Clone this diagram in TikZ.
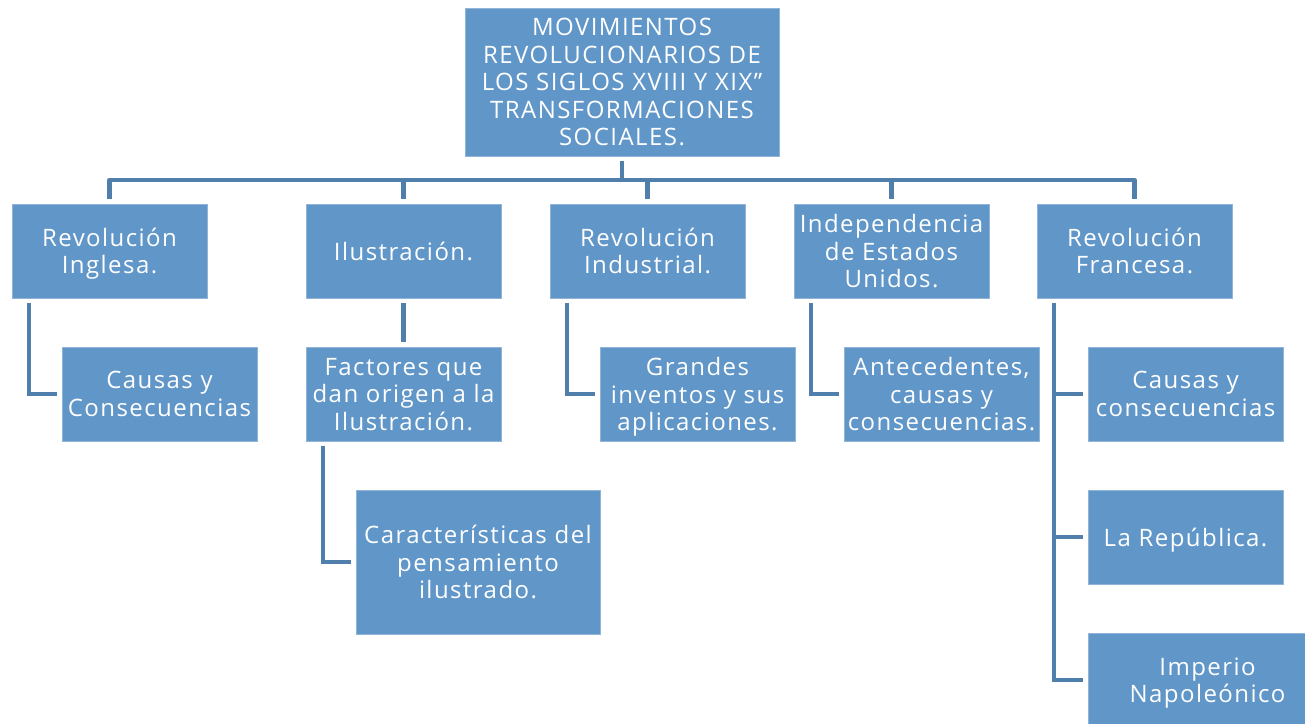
\documentclass[tikz,border=0pt]{standalone}
\usepackage{fontspec}
\setmainfont{Open Sans}[LetterSpace=6]
\definecolor{boxblue}{RGB}{97,150,200}
\definecolor{lineblue}{RGB}{80,127,172}
\begin{document}
\begin{tikzpicture}[x=1pt,y=-1pt,
every node/.style={font=\fontsize{24}{27.5}\selectfont,text=white},
box/.style={%
fill=boxblue,
draw=boxblue!70!white,
line width=0.6pt,
align=center,
text depth=0pt,
inner sep=0pt,
outer sep=5pt,
minimum width=195pt,
minimum height=94pt
},
link/.style={%
draw=lineblue,
line width=4.5pt
}]
\useasboundingbox (0,0) rectangle (1305,723);
\clip (0,0) rectangle (1305,723);
\node[box,minimum width=314pt,minimum height=148pt](top)at(622,82){MOVIMIENTOS\\REVOLUCIONARIOS DE\\LOS SIGLOS XVIII Y XIX”\\TRANSFORMACIONES\\SOCIALES.};
\node[box](ing)at(109.5,251){Revolución\\Inglesa.};
\node[box](ilu)at(403.5,251){Ilustración.};
\node[box](ind)at(647.5,251){Revolución\\Industrial.};
\node[box](eeu)at(891.5,251){Independencia\\de Estados\\Unidos.};
\node[box](fra)at(1134.5,251){Revolución\\Francesa.};
\node[box](cyc)at(159.5,394){Causas y\\Consecuencias};
\node[box](fac)at(403.5,394){Factores que\\dan origen a la\\Ilustración.};
\node[box](inv)at(697.5,394){Grandes\\inventos y sus\\aplicaciones.};
\node[box](ant)at(941.5,394){Antecedentes,\\causas y\\consecuencias.};
\node[box](fcc)at(1185.5,394){Causas y\\consecuencias};
\node[box,minimum width=244pt,minimum height=144pt](car)at(478,562){Características del\\pensamiento\\ilustrado.};
\node[box](rep)at(1185.5,537){La República.};
\node[box,minimum width=239pt](imp)at(1207.5,680){Imperio\\Napoleónico};
\coordinate(bus)at(0,180);
\draw[link] (top.south) -- (top.south |- bus);
\draw[link,line join=round] (ing.north) -- (ing.north |- bus) -- (fra.north |- bus) -- (fra.north);
\foreach \n in {ilu,ind,eeu}{%
\draw[link] (\n.north) -- (\n.north |- bus);
}
\draw[link] (ilu.south) -- (fac.north);
\foreach \p/\c in {ing/cyc,ind/inv,eeu/ant,fra/imp}{%
\draw[link] ([xshift=22pt]\p.south west) |- (\c.west);
}
\draw[link] ([xshift=22pt]fac.south west) |- (car.west);
\coordinate(rail)at([xshift=22pt]fra.south west);
\draw[link] (rail |- fcc.west) -- (fcc.west);
\draw[link] (rail |- rep.west) -- (rep.west);
\end{tikzpicture}
\end{document}
